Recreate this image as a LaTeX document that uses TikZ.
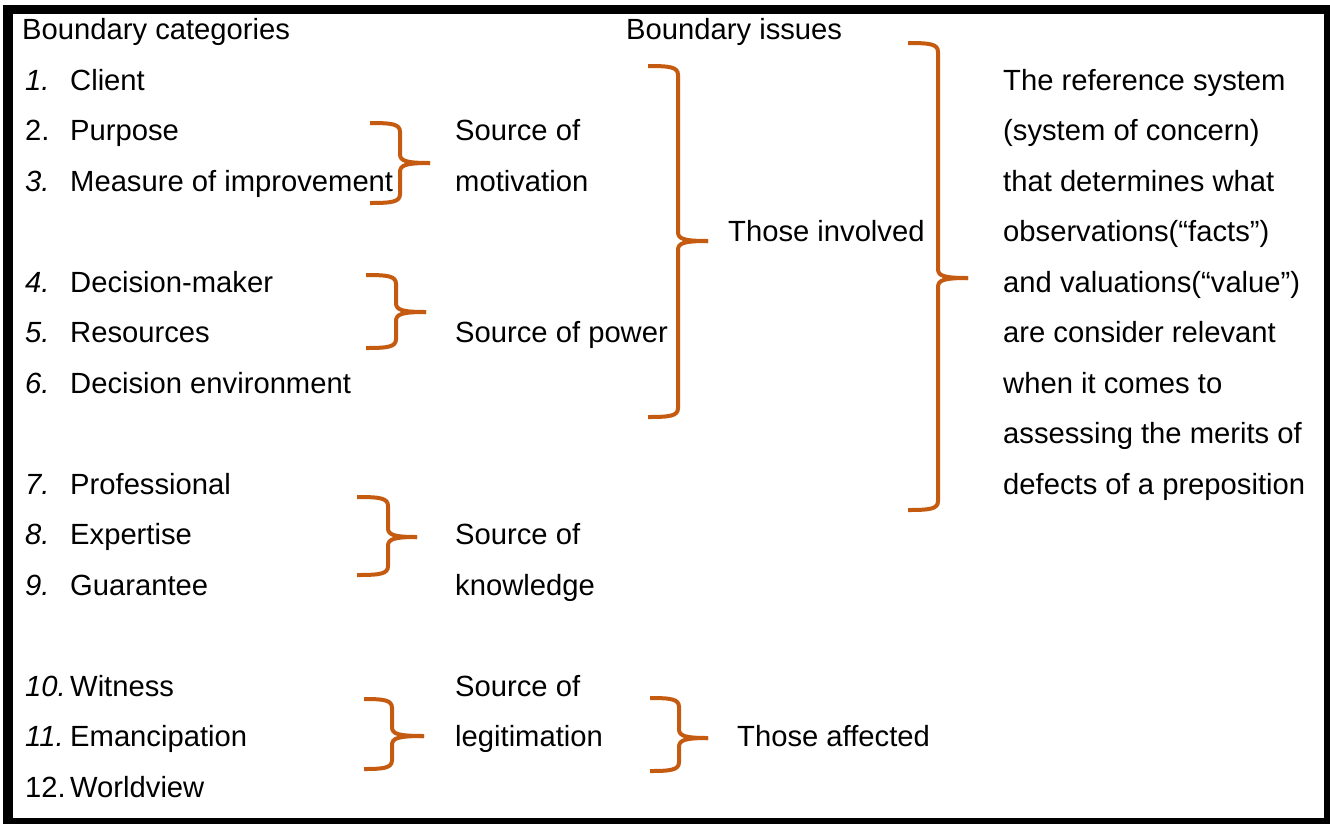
\documentclass[tikz,border=0pt]{standalone}
\usepackage{fontspec}
\setmainfont{Liberation Sans}
\definecolor{bracecol}{HTML}{C55A11}

% curly brace opening to the left: left end x, spine x, tip x, top y, tip y, bottom y
\newcommand\curlybrace[6]{%
  \draw[curl] (#1,#4) .. controls (#2-8,#4) and (#2,#4+1) .. (#2,#4+9)
     -- (#2,#5-9) .. controls (#2,#5-2) and (#2+6,#5) .. (#3,#5);
  \draw[curl] (#3,#5) .. controls (#2+6,#5) and (#2,#5+2) .. (#2,#5+9)
     -- (#2,#6-9) .. controls (#2,#6-1) and (#2-8,#6) .. (#1,#6);
}

\begin{document}
\begin{tikzpicture}[x=1pt,y=-1pt,
  lbl/.style={anchor=base west, inner sep=0pt, font=\fontsize{29.2}{35}\selectfont},
  num/.style={lbl, font=\fontsize{29.2}{35}\selectfont\itshape},
  curl/.style={draw=bracecol, line width=4pt},
  frame/.style={draw=black, line width=9.5pt}]
\useasboundingbox (0,0) rectangle (1330,823);
\clip (0,0) rectangle (1330,823);

% outer frame
\draw[frame] (8,9.5) rectangle (1329,823);

% column headings
\node[lbl] (hcat) at (22,39) {Boundary categories};
\node[lbl] (hiss) at (626,39) {Boundary issues};

% numbered boundary categories (baselines every 50.5 units)
\foreach \k/\n/\t/\it in {0/1./Client/1, 1/2./Purpose/0, 2/3./Measure of improvement/1,
    4/4./Decision-maker/1, 5/5./Resources/1, 6/6./Decision environment/1,
    8/7./Professional/1, 9/8./Expertise/1, 10/9./Guarantee/1,
    12/10./Witness/1, 13/11./Emancipation/1, 14/12./Worldview/0} {
  \ifnum\it=1
    \node[num] (n\k) at (25,90+50.5*\k) {\n};
  \else
    \node[lbl] (n\k) at (25,90+50.5*\k) {\n};
  \fi
  \node[lbl] (c\k) at (70,90+50.5*\k) {\t};
}

% sources
\node[lbl] (mot1) at (455,140.5) {Source of};
\node[lbl] (mot2) at (455,191) {motivation};
\node[lbl] (pow)  at (455,342.5) {Source of power};
\node[lbl] (kno1) at (455,544.5) {Source of};
\node[lbl] (kno2) at (455,595) {knowledge};
\node[lbl] (leg1) at (455,696) {Source of};
\node[lbl] (leg2) at (455,746.5) {legitimation};

% groups of those concerned
\node[lbl] (inv) at (728,241.5) {Those involved};
\node[lbl] (aff) at (737,746.5) {Those affected};

% reference system description
\foreach \k/\t in {0/The reference system, 1/(system of concern),
    2/that determines what, 3/observations(“facts”),
    4/and valuations(“value”), 5/are consider relevant,
    6/when it comes to, 7/assessing the merits of,
    8/defects of a preposition} {
  \node[lbl] (r\k) at (1003,90+50.5*\k) {\t};
}

% braces
\curlybrace{370}{400}{430}{123}{163}{203}
\curlybrace{366}{396}{426}{275}{312}{348}
\curlybrace{357}{388}{417}{497}{537}{575}
\curlybrace{364}{392}{424}{699}{736}{769}
\curlybrace{650}{679}{708}{698}{738}{771}
\curlybrace{648}{678}{708}{66}{241}{417}
\curlybrace{908}{938}{968}{43}{278}{510}
\end{tikzpicture}
\end{document}
